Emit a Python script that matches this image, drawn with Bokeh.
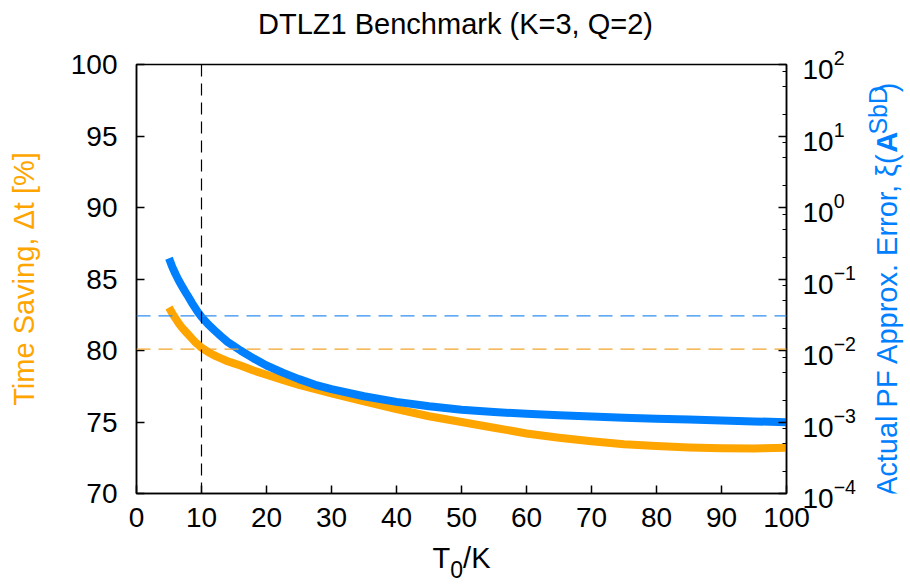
import math
from bokeh.plotting import figure
from bokeh.layouts import row, column
from bokeh.models import Range1d, LogAxis, LogScale, FixedTicker, Span, Label
from bokeh.embed import file_html
from bokeh.resources import INLINE

# ---------------- data ----------------
t0_over_k = [5, 5.5, 6, 6.5, 7, 7.5, 8, 8.5, 9, 9.5, 10, 11, 12, 13, 14, 15, 16, 18,
             20, 22.5, 25, 27.5, 30, 35, 40, 45, 50, 55, 60, 65, 70, 75, 80, 85,
             90, 95, 100]
time_saving = [83.0, 82.6, 82.25, 81.9, 81.6, 81.35, 81.1, 80.85, 80.6, 80.4, 80.2,
               79.9, 79.65, 79.45, 79.25, 79.1, 78.95, 78.6, 78.3, 77.95, 77.6,
               77.3, 77.0, 76.45, 75.9, 75.4, 75.0, 74.6, 74.2, 73.9, 73.65,
               73.45, 73.32, 73.22, 73.17, 73.15, 73.2]
pf_error = [0.195, 0.148, 0.1175, 0.0955, 0.0794, 0.0661, 0.0562, 0.0468, 0.0398,
            0.0339, 0.0295, 0.0234, 0.0191, 0.0158, 0.0132, 0.0115, 0.0100,
            0.00776, 0.00617, 0.0049, 0.00398, 0.00331, 0.00288, 0.00229,
            0.00191, 0.00166, 0.00148, 0.00138, 0.00130, 0.00124, 0.00119,
            0.00115, 0.00111, 0.00108, 0.00105, 0.00102, 0.00099]
x_ticks = [0, 10, 20, 30, 40, 50, 60, 70, 80, 90, 100]
left_ticks = [70, 75, 80, 85, 90, 95, 100]
right_ticks = [1e-4, 1e-3, 1e-2, 1e-1, 1e0, 1e1, 1e2]
right_minor = [m * 10.0 ** k for k in range(-4, 2) for m in (2, 5, 8)]
ref_t0 = 10
ref_time_saving = 80.1
ref_error = 0.0305
title_text = "DTLZ1 Benchmark (K=3, Q=2)"
left_label = "Time Saving, \u0394t [%]"
right_label_parts = ["Actual PF Approx. Error, \u03be(", "A", "SbD", ")"]
bottom_label_parts = ["T", "0", "/K"]

# ---------------- layout / styling ----------------
FONT = "Liberation Sans"
BLUE = "#0080FF"
ORANGE = "#FFA500"
W, H = 910, 586
FL, FR, FT, FB = 136, 786, 64, 493   # frame edges (page pixels)
TOP_H = 44                            # strip holding the title
RIGHT_W = 50                          # strip holding the right axis label
MAIN_W = W - RIGHT_W
BOTTOM_B = 47                         # main plot border below the frame
MAIN_H = FB + BOTTOM_B - TOP_H
BOT_H = H - TOP_H - MAIN_H
MID = 0.35                            # baseline -> text middle, in em


def strip(x0, y0, w, h):
    f = figure(width=w, height=h, output_backend="svg", toolbar_location=None,
               x_range=Range1d(x0, x0 + w), y_range=Range1d(0, h),
               x_axis_location=None, y_axis_location=None, min_border=0,
               background_fill_color="white", border_fill_color="white")
    f.grid.visible = False
    f.outline_line_color = None
    f._page = (x0, y0, h)
    return f


def put(f, px, py, text, size=29, color="black", align="left", style="normal"):
    """Horizontal text; px, py: page position of the start (or centre) on the baseline."""
    x0, y0, h = f._page
    py = py - MID * size
    f.add_layout(Label(x=px, y=(y0 + h) - py, text=text,
                       text_font=FONT, text_font_size=f"{size}px",
                       text_font_style=style, text_color=color,
                       text_baseline="middle", text_align=align))


def put_up(f, px, py, text, size=29, color="black", style="normal", align="left"):
    """Text rotated 90 deg (reads upward); px = baseline x, py = start (or end) y."""
    x0, y0, h = f._page
    px = px - MID * size
    f.add_layout(Label(x=px, y=(y0 + h) - py, text=text, angle=math.pi / 2,
                       text_font=FONT, text_font_size=f"{size}px",
                       text_font_style=style, text_color=color,
                       text_baseline="alphabetic", text_align=align))


# ---- main plot ----
p = figure(width=MAIN_W, height=MAIN_H, output_backend="svg", toolbar_location=None,
           x_range=Range1d(0, 100), y_range=Range1d(70, 100),
           min_border_left=FL, min_border_right=MAIN_W - FR,
           min_border_top=FT - TOP_H, min_border_bottom=BOTTOM_B,
           background_fill_color="white", border_fill_color="white")
p.grid.visible = False
p.outline_line_color = "black"
p.outline_line_width = 1.5

p.extra_y_ranges = {"err": Range1d(1e-4, 1e2)}
p.extra_y_scales = {"err": LogScale()}
rax = LogAxis(y_range_name="err",
              ticker=FixedTicker(ticks=right_ticks, minor_ticks=right_minor))
p.add_layout(rax, "right")

xa = p.xaxis[0]
ya = p.yaxis[0]
xa.ticker = FixedTicker(ticks=x_ticks)
ya.ticker = FixedTicker(ticks=left_ticks)

for ax in (xa, ya, rax):
    ax.axis_line_color = "black"
    ax.axis_line_width = 1.5
    ax.major_tick_in = 8
    ax.major_tick_out = 0
    ax.major_tick_line_color = "black"
    ax.major_tick_line_width = 1.5
    ax.minor_tick_in = 4
    ax.minor_tick_out = 0
    ax.minor_tick_line_color = "black"
    ax.minor_tick_line_width = 1.2
    ax.major_label_text_font = FONT
    ax.major_label_text_font_size = "28px"
    ax.major_label_text_color = "black"
    ax.major_label_standoff = 16

xa.minor_tick_line_color = None
ya.minor_tick_line_color = None
xa.major_label_standoff = 14
ya.major_label_standoff = 19

ya.axis_label = left_label
ya.axis_label_text_font = FONT
ya.axis_label_text_font_size = "29px"
ya.axis_label_text_font_style = "normal"
ya.axis_label_text_color = ORANGE
ya.axis_label_standoff = 28

# curves
p.line(t0_over_k, time_saving, line_color=ORANGE, line_width=8, line_join="round")
p.line(t0_over_k, pf_error, y_range_name="err", line_color=BLUE, line_width=8,
       line_join="round")

# reference lines
p.add_layout(Span(location=ref_t0, dimension="height", line_color="black",
                  line_width=1.2, line_dash="12 7"))
p.add_layout(Span(location=ref_time_saving, dimension="width", line_color="#F2A32A",
                  line_width=1.2, line_dash="14 8"))
p.add_layout(Span(location=ref_error, dimension="width", y_range_name="err",
                  line_color="#2F8FEF", line_width=1.2, line_dash="14 8"))

# ---- title strip (full width) ----
top = strip(0, 0, W, TOP_H)
put(top, 455, 34, title_text, align="center")

# ---- right strip: rotated axis label ----
rgt = strip(MAIN_W, TOP_H, RIGHT_W, MAIN_H)
rx = 897
y_paren = 146          # page y where "xi(" ends and the bold A begins
w2, w3 = 21, 49
put_up(rgt, rx, y_paren, right_label_parts[0], color=BLUE, align="right")
put_up(rgt, rx, y_paren, right_label_parts[1], color=BLUE, style="bold")
put_up(rgt, rx - 11, y_paren - w2, right_label_parts[2], size=25, color=BLUE)
put_up(rgt, rx, y_paren - w2 - w3, right_label_parts[3], color=BLUE)

# ---- bottom strip (full width): T_0/K ----
bot = strip(0, TOP_H + MAIN_H, W, BOT_H)
bx, by = 432, 568
put(bot, bx, by, bottom_label_parts[0])
put(bot, bx + 17.7, by + 9, bottom_label_parts[1], size=23)
put(bot, bx + 17.7 + 12.9, by, bottom_label_parts[2])

layout = column(top, row(p, rgt, spacing=0), bot, spacing=0)
open("out.html", "w").write(file_html(layout, INLINE))
